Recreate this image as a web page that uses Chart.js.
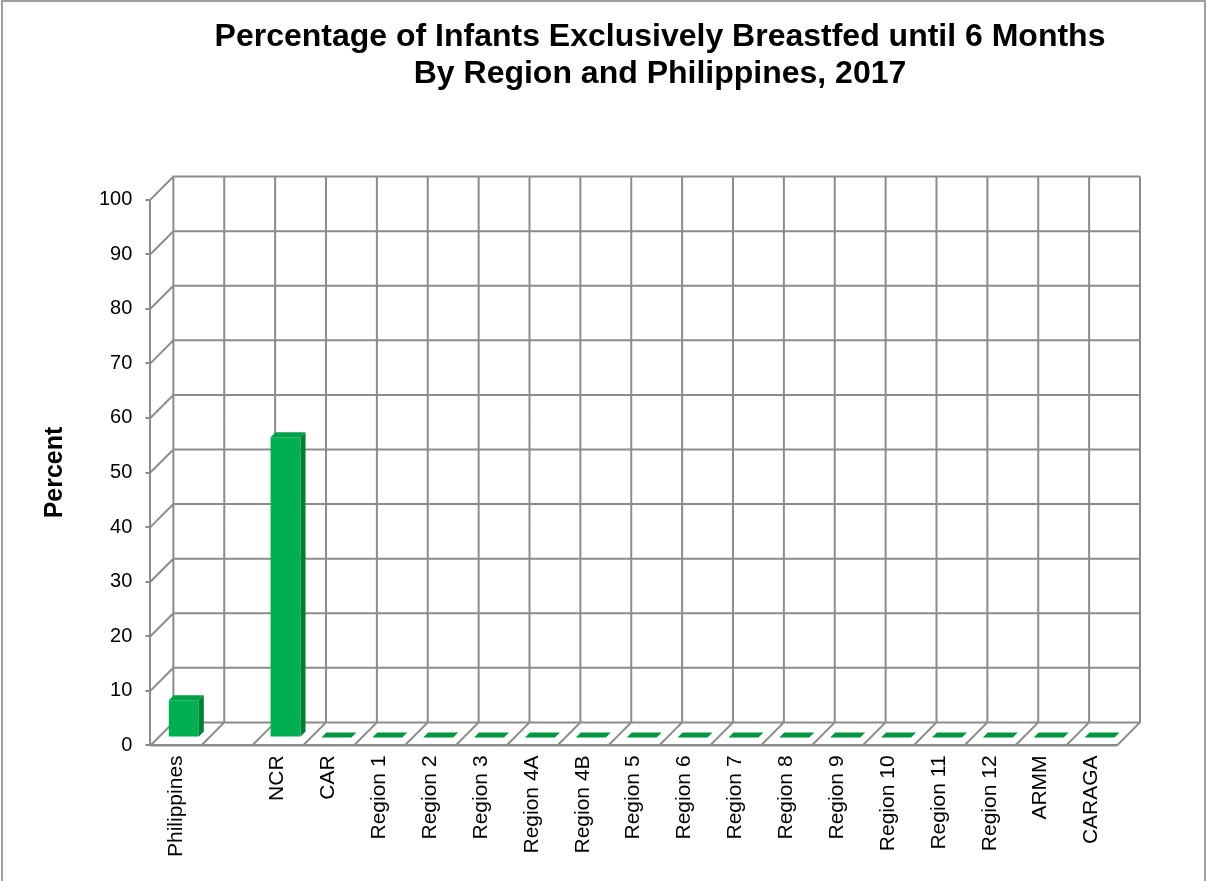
<!DOCTYPE html>
<html>
<head>
<meta charset="utf-8">
<style>
  html, body { margin: 0; padding: 0; background: #fff; }
  #wrap { width: 1206px; height: 881px; }
</style>
<script src="https://cdn.jsdelivr.net/npm/chart.js@4.4.0/dist/chart.umd.min.js"></script>
</head>
<body>
<div id="wrap"><canvas id="barChart" width="1206" height="881"></canvas></div>
<script>
// data
const categories = ['Philippines', '', 'NCR', 'CAR', 'Region 1', 'Region 2', 'Region 3', 'Region 4A',
    'Region 4B', 'Region 5', 'Region 6', 'Region 7', 'Region 8', 'Region 9', 'Region 10',
    'Region 11', 'Region 12', 'ARMM', 'CARAGA'];
const percentValues = [6.8, null, 55, 0, 0, 0, 0, 0, 0, 0, 0, 0, 0, 0, 0, 0, 0, 0, 0];
const yMin = 0;
const yMax = 100;
const yStep = 10;
const titleLines = ['Percentage of Infants Exclusively Breastfed until 6 Months', 'By Region and Philippines, 2017'];

const FONT = '"Liberation Sans", Arial, sans-serif';
const GRID = '#8c8c8c';
const WALL = 23;      // depth of the 3d box
const BAR_OFF = 8;    // where the bar front sits inside the box
const BAR_DEPTH = 5;

// fake 3d walls, floor and bar faces
const box3d = {
    id: 'box3d',
    afterLayout(chart) {
        // title is centred a bit right of the page centre
        const t = chart.titleBlock;
        t.left = 2 * 660 - t.right;
        t.width = t.right - t.left;
    },
    beforeDraw(chart) {
        const ctx = chart.ctx;
        ctx.save();
        ctx.strokeStyle = '#a0a0a0';
        ctx.lineWidth = 2;
        ctx.beginPath();
        ctx.moveTo(2, chart.height);
        ctx.lineTo(2, 1);
        ctx.lineTo(chart.width - 1, 1);
        ctx.lineTo(chart.width - 1, chart.height);
        ctx.stroke();
        ctx.restore();
    },
    beforeDatasetsDraw(chart) {
        const ctx = chart.ctx;
        const x = chart.scales.x;
        const y = chart.scales.y;
        const {left, right, top, bottom} = chart.chartArea;
        const n = categories.length;
        const colW = (right - left) / n;

        ctx.save();
        ctx.strokeStyle = GRID;
        ctx.lineWidth = 2;
        ctx.beginPath();
        // back wall horizontals + left wall diagonals
        y.ticks.forEach(tk => {
            const py = y.getPixelForValue(tk.value);
            ctx.moveTo(left, py);
            ctx.lineTo(left + WALL, py - WALL);
            ctx.lineTo(right + WALL, py - WALL);
        });
        // back wall verticals + floor diagonals
        for (let i = 0; i <= n; i++) {
            const px = i < n ? x.getPixelForValue(i) - colW / 2 : x.getPixelForValue(n - 1) + colW / 2;
            ctx.moveTo(px + WALL, top - WALL);
            ctx.lineTo(px + WALL, bottom - WALL);
            ctx.lineTo(px, bottom);
        }
        // front floor edge
        ctx.moveTo(left, bottom);
        ctx.lineTo(right, bottom);
        ctx.stroke();
        ctx.restore();

        ctx.save();
        ctx.translate(BAR_OFF, -BAR_OFF);
    },
    afterDatasetsDraw(chart) {
        const ctx = chart.ctx;
        ctx.restore();
        const meta = chart.getDatasetMeta(0);
        ctx.save();
        meta.data.forEach((bar, i) => {
            if (percentValues[i] === null) return;
            const p = bar.getProps(['x', 'y', 'base', 'width'], true);
            const x1 = p.x - p.width / 2 + BAR_OFF;
            const x2 = p.x + p.width / 2 + BAR_OFF;
            const yt = p.y - BAR_OFF;
            const yb = p.base - BAR_OFF;
            const d = BAR_DEPTH;
            // top face
            ctx.fillStyle = percentValues[i] > 0 ? '#00a047' : '#00953f';
            ctx.beginPath();
            ctx.moveTo(x1, yt);
            ctx.lineTo(x2, yt);
            ctx.lineTo(x2 + d, yt - d);
            ctx.lineTo(x1 + d, yt - d);
            ctx.closePath();
            ctx.fill();
            // side face
            if (yb - yt > 0.5) {
                ctx.fillStyle = '#007f36';
                ctx.beginPath();
                ctx.moveTo(x2, yt);
                ctx.lineTo(x2 + d, yt - d);
                ctx.lineTo(x2 + d, yb - d);
                ctx.lineTo(x2, yb);
                ctx.closePath();
                ctx.fill();
            }
        });
        ctx.restore();
    }
};

new Chart(document.getElementById('barChart'), {
    type: 'bar',
    data: {
        labels: categories,
        datasets: [{
            label: 'Percent',
            data: percentValues,
            backgroundColor: '#00b050',
            borderWidth: 0,
            barPercentage: 0.59,
            categoryPercentage: 1.0,
            clip: false
        }]
    },
    options: {
        responsive: false,
        animation: false,
        devicePixelRatio: 1,
        layout: {
            padding: {left: 30, right: 89, top: 0, bottom: 14}
        },
        plugins: {
            legend: {display: false},
            tooltip: {enabled: false},
            title: {
                display: true,
                text: titleLines,
                color: '#000',
                font: {family: FONT, size: 32, weight: 'bold', lineHeight: 1.15},
                padding: {top: 19, bottom: 107}
            }
        },
        scales: {
            x: {
                grid: {display: true, drawOnChartArea: false, drawTicks: false, color: GRID},
                border: {display: true, color: GRID, width: 2},
                ticks: {
                    autoSkip: false,
                    maxRotation: 90,
                    minRotation: 90,
                    padding: 10,
                    color: '#000',
                    font: {family: FONT, size: 21}
                }
            },
            y: {
                min: yMin,
                max: yMax,
                grid: {display: true, drawOnChartArea: false, drawTicks: true, tickLength: 5, color: GRID, lineWidth: 2},
                border: {display: true, color: GRID, width: 2},
                ticks: {
                    stepSize: yStep,
                    padding: 13,
                    color: '#000',
                    font: {family: FONT, size: 20}
                },
                title: {
                    display: true,
                    text: 'Percent',
                    color: '#000',
                    font: {family: FONT, size: 25, weight: 'bold', lineHeight: 1.2},
                    padding: {top: 10, bottom: 16}
                }
            }
        }
    },
    plugins: [box3d]
});
</script>
</body>
</html>
